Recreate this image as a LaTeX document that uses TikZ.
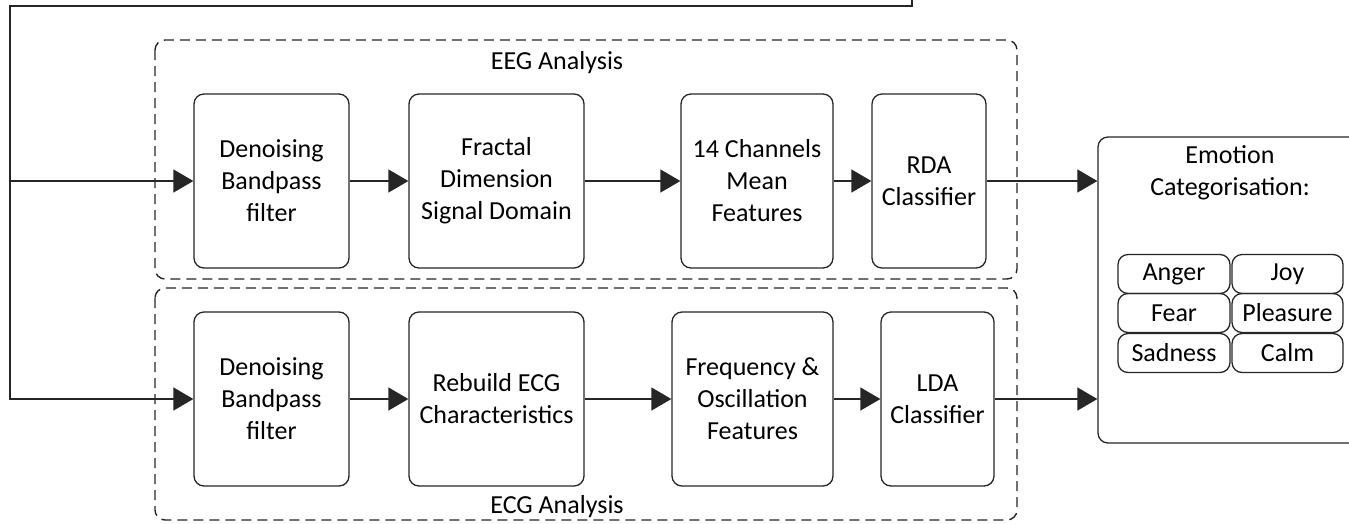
\documentclass[tikz,border=0pt]{standalone}
\usepackage{fontspec}
\setmainfont{Carlito}
\usetikzlibrary{arrows.meta}
\tikzset{
  box/.style={draw=black!85, line width=1.3pt, rounded corners=10pt, align=center, inner sep=0pt, font=\fontsize{26}{32}\selectfont},
  smallbox/.style={draw=black!85, line width=1.3pt, rounded corners=10pt, align=center, inner sep=0pt, minimum height=39pt, font=\fontsize{26}{32}\selectfont},
  group/.style={draw=black!85, line width=1.4pt, dash pattern=on 10pt off 6pt, rounded corners=10pt},
  lbl/.style={align=center, inner sep=0pt, font=\fontsize{26}{32}\selectfont},
  conn/.style={draw=black!85, line width=1.4pt},
  arr/.style={conn, -{Triangle[length=20pt,width=23pt]}}
}
\begin{document}
\begin{tikzpicture}[x=1pt,y=-1pt]
\clip (0,0) rectangle (1349,523);
\fill[white] (0,0) rectangle (1349,523);
% groups
\draw[group] (155,40) rectangle (1017,279);
\draw[group] (155,288) rectangle (1017,520);
\node[lbl] (eeglbl) at (557,63) {EEG Analysis};
\node[lbl] (ecglbl) at (557,507) {ECG Analysis};
% EEG boxes
\node[box, minimum width=155pt, minimum height=174pt] (d1) at (271.5,181) {Denoising\\Bandpass\\filter};
\node[box, minimum width=175pt, minimum height=174pt] (fd) at (496.5,181) {Fractal\\Dimension\\Signal Domain};
\node[box, minimum width=152pt, minimum height=174pt] (ch) at (757,181) {14 Channels\\Mean\\Features};
\node[box, minimum width=114pt, minimum height=174pt] (rda) at (929,181) {RDA\\Classifier};
% ECG boxes
\node[box, minimum width=155pt, minimum height=174pt] (d2) at (271.5,399) {Denoising\\Bandpass\\filter};
\node[box, minimum width=175pt, minimum height=174pt] (rb) at (496.5,399) {Rebuild ECG\\Characteristics};
\node[box, minimum width=161pt, minimum height=174pt] (fq) at (752.5,399) {Frequency \&\\Oscillation\\Features};
\node[box, minimum width=113pt, minimum height=174pt] (lda) at (937.5,399) {LDA\\Classifier};
% emotion box
\node[box, minimum width=270pt, minimum height=306pt] (emo) at (1233,290) {};
\node[lbl] (emot) at (1230,173) {Emotion\\Categorisation:};
\node[smallbox, minimum width=112pt] (anger) at (1174,274) {Anger};
\node[smallbox, minimum width=111pt] (joy) at (1287.5,274) {Joy};
\node[smallbox, minimum width=112pt] (fear) at (1174,313) {Fear};
\node[smallbox, minimum width=111pt] (pleas) at (1287.5,313) {Pleasure};
\node[smallbox, minimum width=112pt] (sad) at (1174,353) {Sadness};
\node[smallbox, minimum width=111pt] (calm) at (1287.5,353) {Calm};
% input lines
\coordinate (t1) at (912,-2);
\coordinate (t2) at (912,6);
\coordinate (c1) at (10,6);
\draw[arr] (t1) -- (t2) -- (c1) |- (d2.west);
\draw[arr] (d1.west -| c1) -- (d1.west);
% EEG chain
\draw[arr] (d1) -- (fd);
\draw[arr] (fd) -- (ch);
\draw[arr] (ch) -- (rda);
\draw[arr] (rda.east) -- (rda.east -| emo.west);
% ECG chain
\draw[arr] (d2) -- (rb);
\draw[arr] (rb) -- (fq);
\draw[arr] (fq) -- (lda);
\draw[arr] (lda.east) -- (lda.east -| emo.west);
\end{tikzpicture}
\end{document}
